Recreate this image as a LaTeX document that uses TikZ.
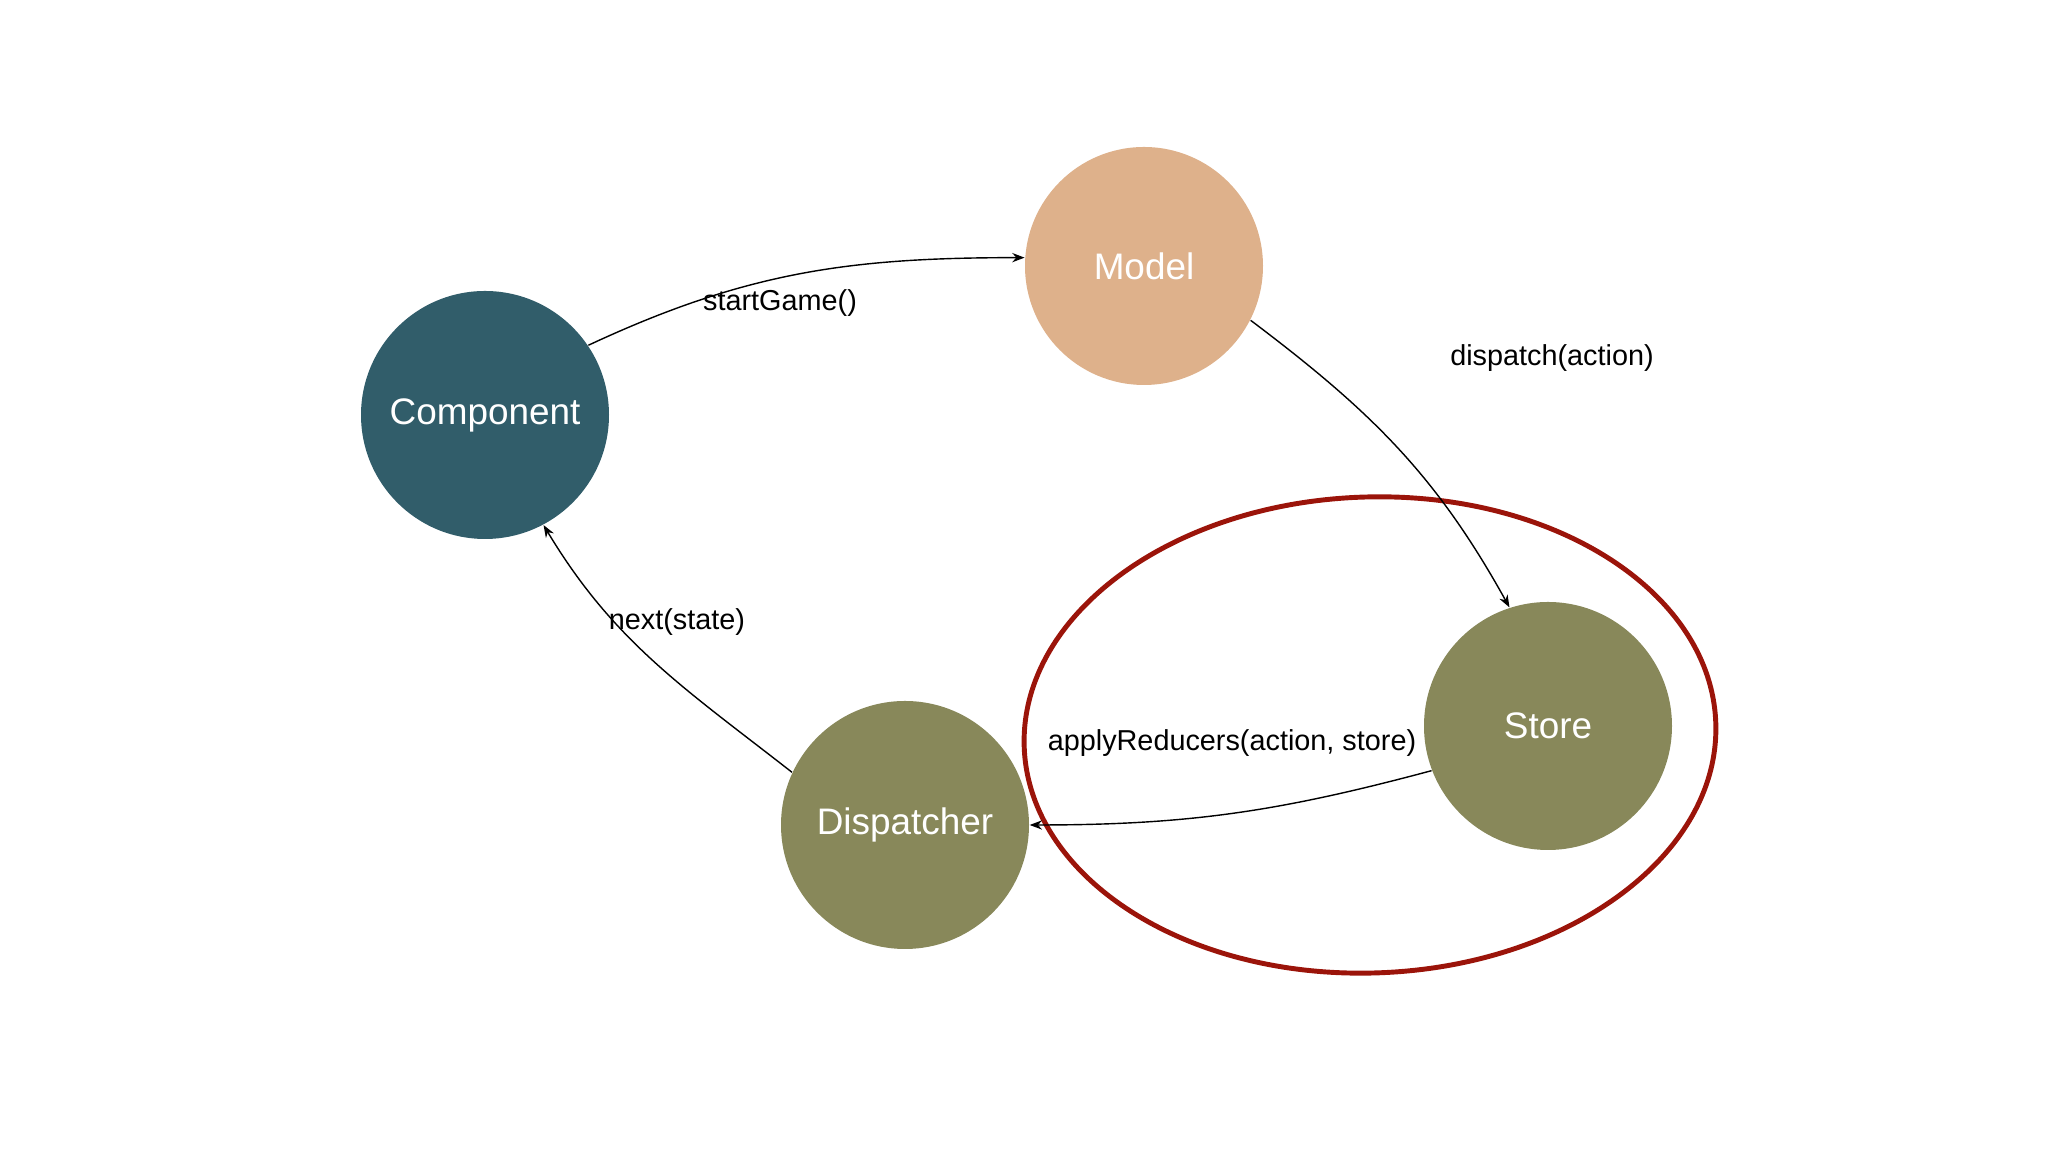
\documentclass[tikz,border=0pt]{standalone}
\usepackage{fontspec}
\setmainfont{Liberation Sans}
\usetikzlibrary{arrows.meta}
\definecolor{compcol}{HTML}{315D6A}
\definecolor{modelcol}{HTML}{DEB18B}
\definecolor{storecol}{HTML}{88885A}
\definecolor{ringred}{HTML}{9B140A}
\begin{document}
\begin{tikzpicture}[>={Stealth[length=3.5pt]}, every node/.style={font=\fontsize{8.2}{10}\selectfont},
  actor/.style={circle, minimum size=2.48cm, inner sep=0pt, text=white, font=\fontsize{10.5}{12}\selectfont}]
  \useasboundingbox (0,0) rectangle (20.48,11.52);
  \node[actor, fill=compcol] (comp) at (4.85,7.37) {Component};
  \node[actor, fill=modelcol, minimum size=2.38cm] (model) at (11.44,8.86) {Model};
  \node[actor, fill=storecol] (store) at (15.48,4.26) {Store};
  \node[actor, fill=storecol] (disp) at (9.05,3.27) {Dispatcher};
  % red ring round the store
  \draw[ringred, line width=1.4pt, rotate around={2:(13.70,4.17)}] (13.70,4.17) ellipse (3.46 and 2.38);
  \draw[->] (comp.34) to[out=25, in=180] (model.176);
  \draw[->] (model.-27) to[out=-37, in=119] (store.108);
  \draw[->] (store.-159) to[out=195, in=0] (disp.0);
  \draw[->] (disp.155) to[out=142, in=-59] (comp.-62);
  \node (start) at (7.80,8.49) {startGame()};
  \node (dispatch) at (15.52,7.94) {dispatch(action)};
  \node (next) at (6.77,5.30) {next(state)};
  \node (reduce) at (12.32,4.09) {applyReducers(action, store)};
\end{tikzpicture}
\end{document}
